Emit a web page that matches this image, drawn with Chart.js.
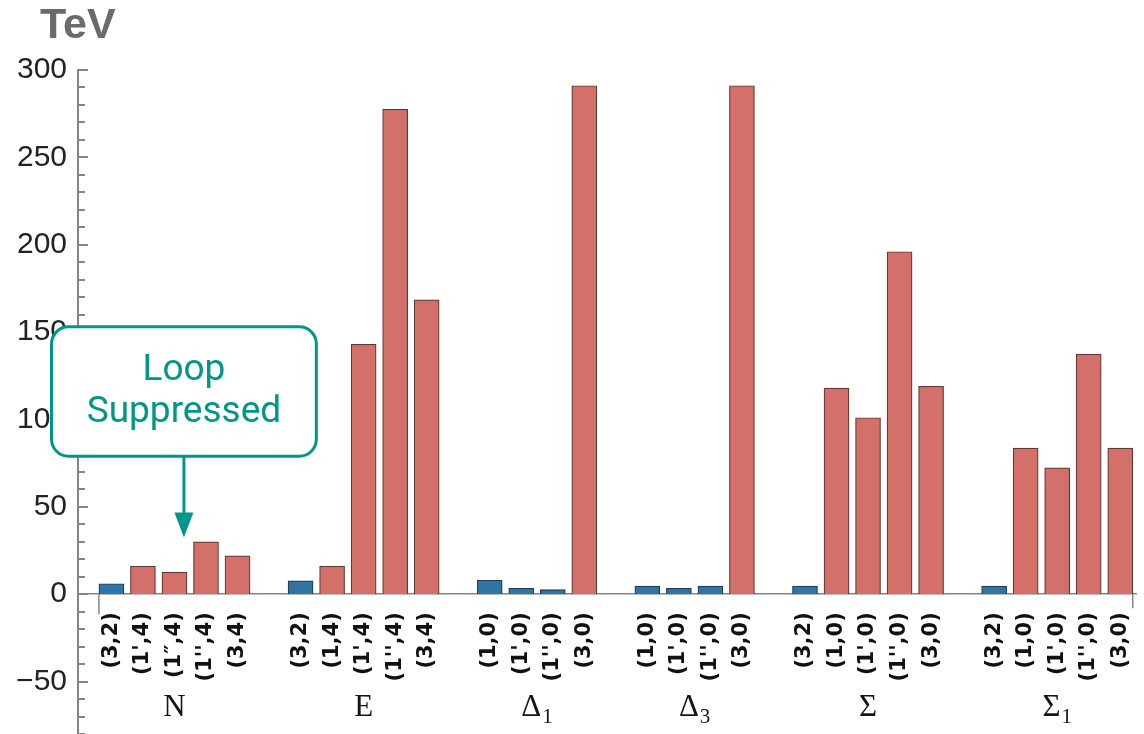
<!DOCTYPE html>
<html>
<head>
<meta charset="utf-8">
<script src="https://cdn.jsdelivr.net/npm/chart.js@4.4.1/dist/chart.umd.min.js"></script>
<style>
  html, body { margin: 0; padding: 0; background: #ffffff; }
  canvas { display: block; }
</style>
</head>
<body>
<canvas id="chart" width="1144" height="734"></canvas>
<script>
// Multiplets and their (A4 rep, SU(2) rep) assignments
const groupNames = ['N', 'E', 'Δ', 'Δ', 'Σ', 'Σ'];
const groupSubscripts = ['', '', '1', '3', '', '1'];
const labelsN      = ['(3,2)', "(1',4)", '(1″,4)', "(1'',4)", '(3,4)'];
const labelsE      = ['(3,2)', '(1,4)', "(1',4)", "(1'',4)", '(3,4)'];
const labelsDelta1 = ['(1,0)', "(1',0)", "(1'',0)", '(3,0)'];
const labelsDelta3 = ['(1,0)', "(1',0)", "(1'',0)", '(3,0)'];
const labelsSigma  = ['(3,2)', '(1,0)', "(1',0)", "(1'',0)", '(3,0)'];
const labelsSigma1 = ['(3,2)', '(1,0)', "(1',0)", "(1'',0)", '(3,0)'];

// Scale reach in TeV
const valuesN      = [6, 16, 12.6, 30, 22];
const valuesE      = [7.6, 16, 143, 277.5, 168.5];
const valuesDelta1 = [8, 3.4, 2.6, 291];
const valuesDelta3 = [4.6, 3.4, 4.6, 291];
const valuesSigma  = [4.6, 118, 101, 196, 119];
const valuesSigma1 = [4.6, 83.6, 72.3, 137.4, 83.6];

// Which entries are loop suppressed
const loopN      = [true, false, false, false, false];
const loopE      = [true, false, false, false, false];
const loopDelta1 = [true, true, true, false];
const loopDelta3 = [true, true, true, false];
const loopSigma  = [true, false, false, false, false];
const loopSigma1 = [true, false, false, false, false];

// Axis ticks (TeV)
const yMin = -80;
const yMax = 300;
const yMinorStep = 10;
const yMajorStep = 50;

// Callout: box corners and arrow tip in axis units
const calloutText = ['Loop', 'Suppressed'];
const calloutBox = { x0: -1.9, x1: 6.5, y0: 153, y1: 79 };
const calloutArrow = { x: 2.3, yTip: 32.5 };

const groupLabelSets = [labelsN, labelsE, labelsDelta1, labelsDelta3, labelsSigma, labelsSigma1];
const groupValueSets = [valuesN, valuesE, valuesDelta1, valuesDelta3, valuesSigma, valuesSigma1];
const groupLoopSets  = [loopN, loopE, loopDelta1, loopDelta3, loopSigma, loopSigma1];

// Lay the groups out along x with one empty slot between neighbours
const slotLabels = new Map();
const slots = [];
const groupRanges = [];
const loopPoints = [];
const treePoints = [];
let slot = 0;
groupLabelSets.forEach((labels, g) => {
  const first = slot;
  labels.forEach((lab, i) => {
    slotLabels.set(slot, lab);
    slots.push(slot);
    const pt = { x: slot, y: groupValueSets[g][i] };
    (groupLoopSets[g][i] ? loopPoints : treePoints).push(pt);
    slot++;
  });
  groupRanges.push([first, slot - 1]);
  slot++;
});
const lastSlot = slot - 2;

const BAR_W = 25;
const AXIS_GREY = '#858585';
const TEAL = '#009688';

function minusLabel(v) {
  return v < 0 ? '\u2212' + Math.abs(v) : String(v);
}

// Inward tick marks on the value axis, end ticks on the category axis
const frameTicks = {
  id: 'frameTicks',
  afterDraw(chart) {
    const { ctx, chartArea } = chart;
    const y = chart.scales.y;
    const x = chart.scales.x;
    ctx.save();
    ctx.strokeStyle = AXIS_GREY;
    ctx.lineWidth = 2;
    y.ticks.forEach(t => {
      const py = Math.round(y.getPixelForValue(t.value));
      const len = t.value % yMajorStep === 0 ? 10 : 7;
      ctx.beginPath();
      ctx.moveTo(chartArea.left, py);
      ctx.lineTo(chartArea.left + len, py);
      ctx.stroke();
    });
    const y0 = y.getPixelForValue(0);
    ctx.lineWidth = 1.5;
    const xl = x.getPixelForValue(slots[0]) - BAR_W / 2;
    const xr = x.getPixelForValue(lastSlot) + BAR_W / 2;
    ctx.beginPath();
    ctx.moveTo(xl, y0); ctx.lineTo(xl, y0 + 20);
    ctx.moveTo(xr, y0); ctx.lineTo(xr, y0 + 14);
    ctx.stroke();
    ctx.restore();
  }
};

// Multiplet names under each group, plus the unit label
const groupTitles = {
  id: 'groupTitles',
  afterDraw(chart) {
    const { ctx, chartArea } = chart;
    const x = chart.scales.x;
    const y0 = chart.scales.y.getPixelForValue(0);
    const mainFont = '31px "Liberation Serif", "DejaVu Serif", serif';
    const subFont = '21px "Liberation Serif", "DejaVu Serif", serif';
    ctx.save();
    ctx.fillStyle = '#151515';
    ctx.textBaseline = 'alphabetic';
    ctx.textAlign = 'left';
    groupRanges.forEach(([a, b], g) => {
      const cx = (x.getPixelForValue(a) + x.getPixelForValue(b)) / 2;
      const base = groupNames[g];
      const sub = groupSubscripts[g];
      ctx.font = mainFont;
      const wBase = ctx.measureText(base).width;
      ctx.font = subFont;
      const wSub = sub ? ctx.measureText(sub).width + 1 : 0;
      const left = cx - (wBase + wSub) / 2;
      const by = y0 + 122;
      ctx.font = mainFont;
      ctx.fillText(base, left, by);
      if (sub) {
        ctx.font = subFont;
        ctx.fillText(sub, left + wBase + 1, by + 7);
      }
    });
    ctx.font = 'bold 43px "Liberation Sans", Arial, sans-serif';
    ctx.fillStyle = '#6b6b6b';
    ctx.fillText('TeV', chartArea.left - 38, 38);
    ctx.restore();
  }
};

// Rounded callout box with a downward arrow
const callout = {
  id: 'callout',
  afterDraw(chart) {
    const { ctx } = chart;
    const x = chart.scales.x;
    const y = chart.scales.y;
    const bx0 = x.getPixelForValue(calloutBox.x0);
    const bx1 = x.getPixelForValue(calloutBox.x1);
    const by0 = y.getPixelForValue(calloutBox.y0);
    const by1 = y.getPixelForValue(calloutBox.y1);
    const r = 17;
    ctx.save();
    ctx.lineWidth = 3;
    ctx.strokeStyle = TEAL;
    ctx.fillStyle = '#ffffff';
    ctx.beginPath();
    ctx.roundRect(bx0, by0, bx1 - bx0, by1 - by0, r);
    ctx.fill();
    ctx.stroke();

    const ax = x.getPixelForValue(calloutArrow.x);
    const tip = y.getPixelForValue(calloutArrow.yTip);
    const headLen = 25;
    ctx.beginPath();
    ctx.moveTo(ax, by1);
    ctx.lineTo(ax, tip - headLen + 2);
    ctx.stroke();
    ctx.fillStyle = TEAL;
    ctx.beginPath();
    ctx.moveTo(ax - 9.5, tip - headLen);
    ctx.lineTo(ax + 9.5, tip - headLen);
    ctx.lineTo(ax, tip);
    ctx.closePath();
    ctx.fill();

    ctx.font = '37px Roboto, "Noto Sans", sans-serif';
    ctx.textAlign = 'center';
    ctx.textBaseline = 'middle';
    const cx = (bx0 + bx1) / 2;
    const cy = (by0 + by1) / 2;
    const lh = 42;
    calloutText.forEach((line, i) => {
      ctx.fillText(line, cx, cy + (i - (calloutText.length - 1) / 2) * lh);
    });
    ctx.restore();
  }
};

new Chart(document.getElementById('chart'), {
  type: 'bar',
  data: {
    datasets: [
      {
        label: 'Loop suppressed',
        data: loopPoints,
        backgroundColor: '#2f74a3',
        borderColor: '#203d55',
        borderWidth: 1.2,
        barThickness: BAR_W,
        grouped: false
      },
      {
        label: 'Tree level',
        data: treePoints,
        backgroundColor: '#d3706a',
        borderColor: '#5e3936',
        borderWidth: 1.2,
        barThickness: BAR_W,
        grouped: false
      }
    ]
  },
  options: {
    responsive: false,
    animation: false,
    layout: { padding: { top: 70, right: 8, bottom: 0, left: 0 } },
    plugins: {
      legend: { display: false },
      tooltip: { enabled: false }
    },
    scales: {
      x: {
        type: 'linear',
        position: { y: 0 },
        offset: false,
        min: -1.06,
        max: lastSlot + 0.5,
        grid: { display: false, drawTicks: false },
        border: { display: true, color: AXIS_GREY, width: 1.5 },
        afterBuildTicks(scale) {
          scale.ticks = slots.map(v => ({ value: v }));
        },
        afterFit(scale) {
          scale.paddingTop = 0;
          scale.paddingBottom = 0;
          scale.paddingLeft = 0;
          scale.paddingRight = 0;
        },
        ticks: {
          autoSkip: false,
          minRotation: 90,
          maxRotation: 90,
          padding: 18,
          color: '#111111',
          font: { family: '"DejaVu Sans", sans-serif', weight: 'bold', size: 21 },
          callback: (v) => slotLabels.get(v) ?? ''
        }
      },
      y: {
        type: 'linear',
        min: yMin,
        max: yMax,
        grid: { display: false, drawTicks: false },
        border: { display: true, color: AXIS_GREY, width: 2 },
        afterFit(scale) {
          scale.width = 78;
          scale.paddingTop = 0;
          scale.paddingBottom = 0;
        },
        ticks: {
          stepSize: yMinorStep,
          autoSkip: false,
          padding: 11,
          color: '#222222',
          font: { family: '"Liberation Sans", Arial, sans-serif', size: 30 },
          callback: (v) => (v % yMajorStep === 0 ? minusLabel(v) : '')
        }
      }
    }
  },
  plugins: [frameTicks, groupTitles, callout]
});
</script>
</body>
</html>
